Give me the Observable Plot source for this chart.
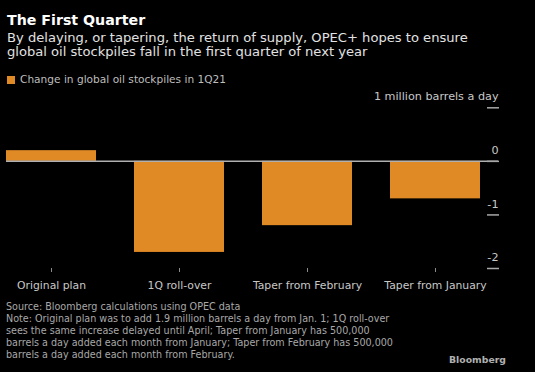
<!DOCTYPE html>
<html>
<head>
<meta charset="utf-8">
<script src="https://cdn.jsdelivr.net/npm/d3@7"></script>
<script src="https://cdn.jsdelivr.net/npm/@observablehq/plot@0.6"></script>
<style>
  html, body { margin: 0; padding: 0; background: #000; }
  body { width: 535px; height: 372px; position: relative; overflow: hidden; font-family: "DejaVu Sans", sans-serif; }
  .abs { position: absolute; white-space: nowrap; }
  #title { left: 7px; top: 13px; font-size: 14.2px; line-height: 14.2px; font-weight: bold; color: #fff; }
  #subtitle { left: 7px; top: 30.5px; font-size: 13.1px; line-height: 14.4px; color: #e2e2e2; }
  #legend-swatch { left: 7px; top: 76px; width: 8px; height: 8px; background: #df8a25; }
  #legend-text { left: 20px; top: 73.3px; font-size: 10.6px; line-height: 12px; color: #bdbdbd; }
  #chart { left: 0; top: 0; }
  #footer { left: 6px; top: 300.6px; font-size: 9.6px; line-height: 12.1px; color: #a8a8a8; }
  #brand { left: 449px; top: 354px; font-size: 9.3px; line-height: 12px; font-weight: bold; color: #b0b0b0; }
</style>
</head>
<body>
<div id="chart" class="abs"></div>
<div id="title" class="abs"></div>
<div id="subtitle" class="abs"></div>
<div id="legend-swatch" class="abs"></div>
<div id="legend-text" class="abs"></div>
<div id="footer" class="abs"></div>
<div id="brand" class="abs"></div>
<script>
// ---- Data ----
const categories = ["Original plan", "1Q roll-over", "Taper from February", "Taper from January"];
const values = [0.2, -1.7, -1.2, -0.7];
const yTicks = [-2, -1, 0, 1];
const unitLabel = "1 million barrels a day";
const seriesName = "Change in global oil stockpiles in 1Q21";
const titleText = "The First Quarter";
const subtitleLines = [
  "By delaying, or tapering, the return of supply, OPEC+ hopes to ensure",
  "global oil stockpiles fall in the first quarter of next year"
];
const footerLines = [
  "Source: Bloomberg calculations using OPEC data",
  "Note: Original plan was to add 1.9 million barrels a day from Jan. 1; 1Q roll-over",
  "sees the same increase delayed until April; Taper from January has 500,000",
  "barrels a day added each month from January; Taper from February has 500,000",
  "barrels a day added each month from February."
];
const brandText = "Bloomberg";

// ---- Text ----
document.getElementById("title").textContent = titleText;
document.getElementById("subtitle").innerHTML = subtitleLines.join("<br>");
document.getElementById("legend-text").textContent = seriesName;
document.getElementById("footer").innerHTML = footerLines.join("<br>");
document.getElementById("brand").textContent = brandText;

// ---- Chart ----
const data = categories.map((c, i) => ({category: c, value: values[i]}));

const chart = Plot.plot({
  width: 535,
  height: 300,
  marginLeft: 6,
  marginRight: 37,
  marginTop: 107.3,
  marginBottom: 32,
  style: {background: "transparent", color: "#c8c8c8", fontFamily: "DejaVu Sans, sans-serif"},
  x: {domain: categories, range: [5.8, 480.5], paddingInner: 0.3, paddingOuter: 0},
  y: {domain: [-2, 1]},
  marks: [
    Plot.barY(data, {x: "category", y: "value", fill: "#df8a25"}),
    Plot.ruleY([0], {stroke: "#b0b0b0", strokeWidth: 1.5}),
    Plot.axisX({tickSize: 4, tickPadding: 9, fontSize: 10.8, stroke: "#8a8a8a", label: null}),
    // y tick marks only
    Plot.axisY(yTicks, {
      anchor: "right", tickSize: 12, insetRight: 12, fill: "none",
      stroke: "#a8a8a8", strokeWidth: 1.5, label: null
    }),
    // y tick labels only, placed above the tick marks
    Plot.axisY(yTicks, {
      anchor: "right", tickSize: 12, insetRight: 12, tickPadding: 0, stroke: "none",
      textAnchor: "end", dy: -11, fontSize: 11.2, fill: "#c8c8c8",
      tickFormat: d => d === 1 ? unitLabel : String(d), label: null
    })
  ]
});
document.getElementById("chart").appendChild(chart);
</script>
</body>
</html>
